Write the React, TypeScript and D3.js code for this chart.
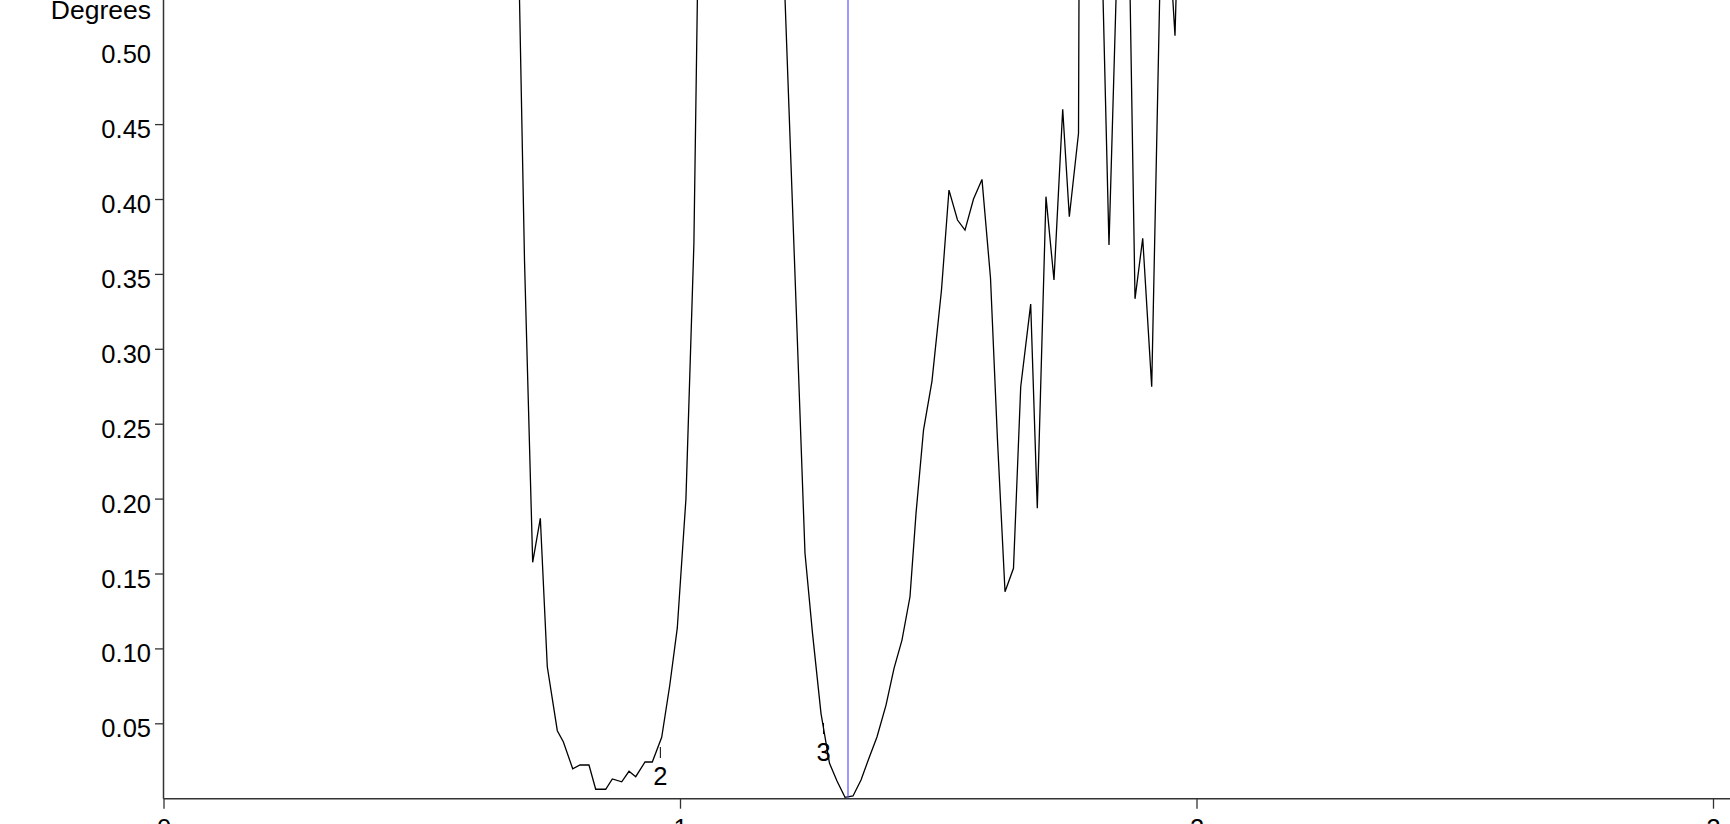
import React from 'react';
import * as d3 from 'd3';

// ---- data ----
const xValues = [
  0.667, 0.6825, 0.698, 0.7138, 0.7286, 0.7421, 0.7615, 0.7731, 0.7913, 0.8054,
  0.8228, 0.8358, 0.8552, 0.868, 0.8862, 0.9003, 0.9133, 0.9313, 0.9454, 0.9636,
  0.9793, 0.9938, 1.0105, 1.0259, 1.0416, 1.09, 1.15,
  1.1946, 1.2101, 1.2256, 1.241, 1.2556, 1.272, 1.2885, 1.303, 1.3185, 1.334,
  1.3495, 1.365, 1.3804, 1.3979, 1.4134, 1.4288, 1.4443, 1.456, 1.4705, 1.4869,
  1.5053, 1.5198, 1.5363, 1.5508, 1.5673, 1.5837, 1.6002, 1.6137, 1.6283, 1.6447,
  1.6587, 1.678, 1.6908, 1.7076, 1.7231, 1.74, 1.7528, 1.7706, 1.7861, 1.8015,
  1.8151, 1.8296, 1.8451, 1.8625, 1.88, 1.8949, 1.9123, 1.9284, 1.9429, 1.9574,
  1.9729, 1.9884, 2.004,
];
const yValues = [
  0.9, 0.638, 0.359, 0.1578, 0.1872, 0.0881, 0.0454, 0.038, 0.02, 0.0225,
  0.0225, 0.0063, 0.0063, 0.0132, 0.0113, 0.0183, 0.0147, 0.0245, 0.0245, 0.041,
  0.0759, 0.114, 0.2, 0.37, 0.75, 1.3, 1.0,
  0.608, 0.46, 0.3122, 0.164, 0.1104, 0.057, 0.0236, 0.0118, 0.0009, 0.0018,
  0.0125, 0.0272, 0.0412, 0.0625, 0.087, 0.1059, 0.1348, 0.1905, 0.2461, 0.2788,
  0.3396, 0.4063, 0.3863, 0.3796, 0.4003, 0.4134, 0.3476, 0.2395, 0.1382, 0.1538,
  0.275, 0.3302, 0.1939, 0.4019, 0.3463, 0.4602, 0.3885, 0.4442, 2.0, 1.2,
  0.5772, 0.3696, 0.5565, 0.7047, 0.3337, 0.3741, 0.275, 0.5465, 0.592, 0.5094,
  0.7, 1.1, 1.5,
];
const yTickLabels = [0.05, 0.1, 0.15, 0.2, 0.25, 0.3, 0.35, 0.4, 0.45, 0.5];
const yTickMarks = [0.05, 0.1, 0.15, 0.2, 0.25, 0.3, 0.35, 0.4, 0.45];
const xTickValues = [0, 1, 2, 3];
const markerX = 1.3243;
const annotationLabels = ['2', '3'];
const annotationX = [0.961, 1.2769];
const annotationY = [0.0345, 0.0505];
const yAxisTitle = 'Degrees';

const W = 1730;
const H = 824;
const left = 164;
const bottom = 798.7;
const FONT = '"Liberation Sans", Arial, Helvetica, sans-serif';

export default function App() {
  const x = d3.scaleLinear().domain([0, 3]).range([left, 1713.5]);
  const y = d3.scaleLinear().domain([0, 0.5]).range([bottom, bottom - 749]);
  const pts = xValues.map((v, i) => [v, yValues[i]] as [number, number]);
  const line = d3
    .line<[number, number]>()
    .x((d) => x(d[0]))
    .y((d) => y(d[1]));

  return (
    <svg
      width={W}
      height={H}
      style={{ position: 'absolute', left: 0, top: 0, background: '#fff' }}
      fontFamily={FONT}
    >
      <defs>
        <clipPath id="plot">
          <rect x={left} y={0} width={W - left} height={bottom} />
        </clipPath>
      </defs>
      <rect x={0} y={0} width={W} height={H} fill="#fff" />

      {/* curve */}
      <g clipPath="url(#plot)">
        <path d={line(pts) || ''} fill="none" stroke="#000" strokeWidth={1.3} strokeLinejoin="miter" />
        <line x1={x(markerX)} x2={x(markerX)} y1={0} y2={bottom} stroke="#5555ff" strokeWidth={1.2} />
      </g>

      {/* annotations */}
      {annotationLabels.map((lab, i) => {
        const ax = x(annotationX[i]);
        const ay = y(annotationY[i]);
        return (
          <g key={lab}>
            <line x1={ax} x2={ax} y1={ay} y2={ay + 11} stroke="#000" strokeWidth={1} />
            <text x={ax} y={ay + 37.5} textAnchor="middle" fontSize={25.5} fill="#000">
              {lab}
            </text>
          </g>
        );
      })}

      {/* y axis */}
      <line x1={left - 0.5} x2={left - 0.5} y1={0} y2={bottom} stroke="#333" strokeWidth={1.5} />
      {yTickMarks.map((t) => (
        <line key={'ym' + t} x1={left - 9} x2={left - 0.5} y1={y(t)} y2={y(t)} stroke="#333" strokeWidth={1.3} />
      ))}
      {yTickLabels.map((t) => (
        <text key={'yl' + t} x={151} y={y(t) + 13.5} textAnchor="end" fontSize={25.5} fill="#000">
          {d3.format('.2f')(t)}
        </text>
      ))}
      <text x={151} y={18.5} textAnchor="end" fontSize={26.5} fill="#000">
        {yAxisTitle}
      </text>

      {/* x axis */}
      <line x1={left - 0.5} x2={W} y1={bottom} y2={bottom} stroke="#333" strokeWidth={1.5} />
      {xTickValues.map((t) => (
        <g key={'x' + t}>
          <line x1={x(t)} x2={x(t)} y1={bottom} y2={bottom + 10} stroke="#333" strokeWidth={1.3} />
          <text x={x(t)} y={bottom + 38} textAnchor="middle" fontSize={25.5} fill="#000">
            {String(t)}
          </text>
        </g>
      ))}
    </svg>
  );
}
